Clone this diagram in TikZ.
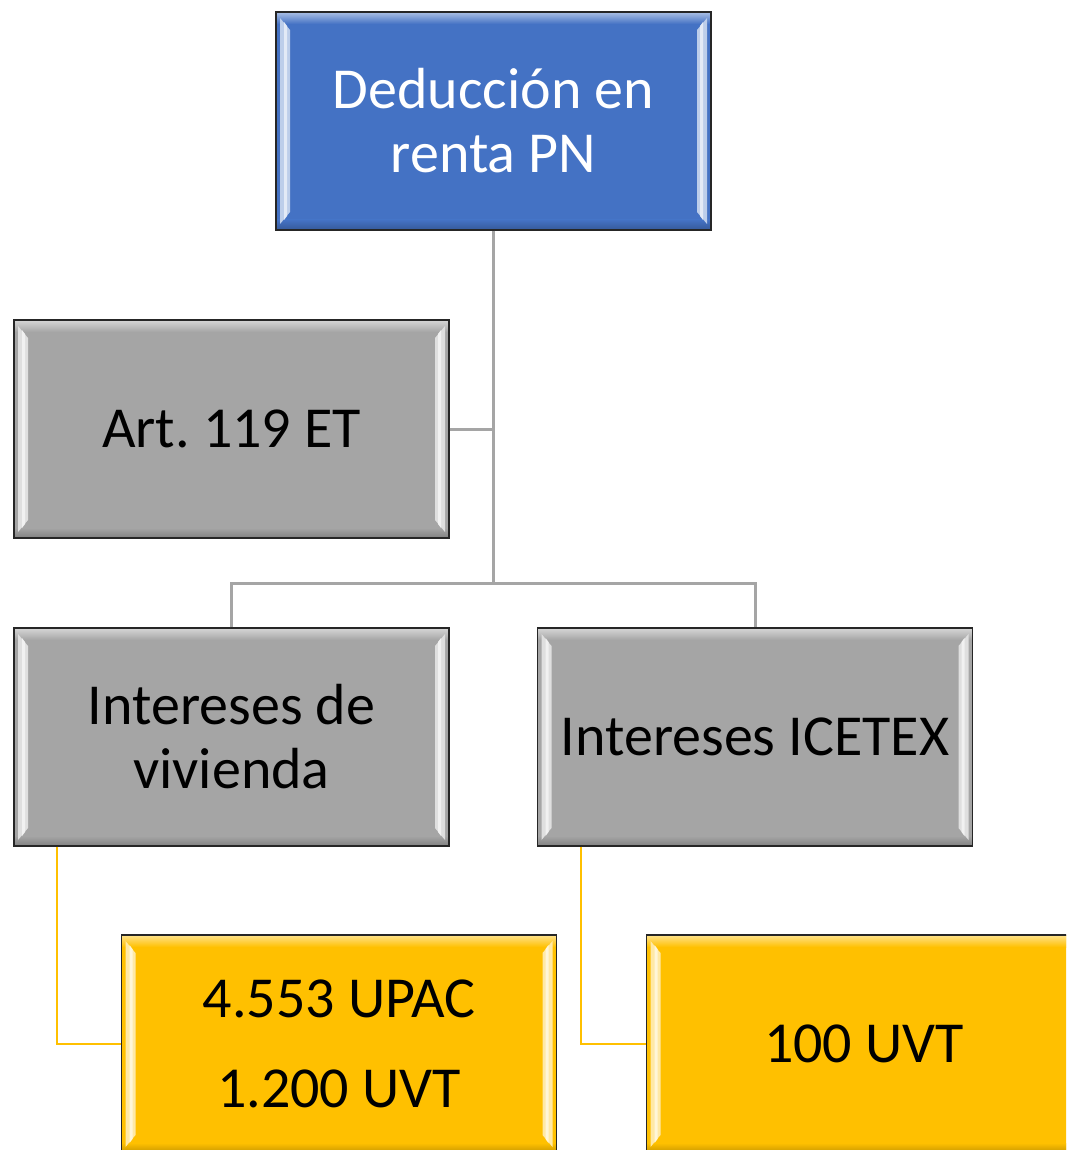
\documentclass[tikz,border=0pt]{standalone}
\usepackage{fontspec}
\setmainfont{Carlito}
\frenchspacing
\definecolor{cblue}{HTML}{4472C4}
\definecolor{cgray}{HTML}{A5A5A5}
\definecolor{cgold}{HTML}{FFC000}
\definecolor{cline}{HTML}{A5A5A5}
\tikzset{
  box/.style={rectangle, draw=black!85, line width=1.4pt, fill=#1,
    minimum width=435pt, minimum height=218pt, inner sep=0pt, align=center,
    font=\fontsize{58}{64}\selectfont,
    path picture={
      \coordinate (pNW) at (path picture bounding box.north west);
      \coordinate (pNE) at (path picture bounding box.north east);
      \coordinate (pSW) at (path picture bounding box.south west);
      \coordinate (pSE) at (path picture bounding box.south east);
      \shade[top color=#1!45!white, bottom color=#1] (pNW) rectangle ([yshift=-12pt]pNE);
      \shade[top color=#1, bottom color=#1!78!black] ([yshift=10pt]pSW) rectangle (pSE);
      \fill[#1!35!white] ([shift={(4pt,-6pt)}]pNW) -- ([shift={(14pt,-18pt)}]pNW)
         -- ([shift={(14pt,18pt)}]pSW) -- ([shift={(4pt,6pt)}]pSW) -- cycle;
      \fill[white!85!#1] ([shift={(8pt,-10pt)}]pNW) -- ([shift={(11pt,-14pt)}]pNW)
         -- ([shift={(11pt,14pt)}]pSW) -- ([shift={(8pt,10pt)}]pSW) -- cycle;
      \fill[#1!35!white] ([shift={(-4pt,-6pt)}]pNE) -- ([shift={(-14pt,-18pt)}]pNE)
         -- ([shift={(-14pt,18pt)}]pSE) -- ([shift={(-4pt,6pt)}]pSE) -- cycle;
      \fill[white!85!#1] ([shift={(-8pt,-10pt)}]pNE) -- ([shift={(-11pt,-14pt)}]pNE)
         -- ([shift={(-11pt,14pt)}]pSE) -- ([shift={(-8pt,10pt)}]pSE) -- cycle;
    }},
  gline/.style={draw=cline, line width=3pt},
  yline/.style={draw=cgold, line width=2.6pt}
}
\begin{document}
\begin{tikzpicture}[x=1pt,y=1pt]
\useasboundingbox (0,0) rectangle (1066,-1150);
\clip (0,0) rectangle (1066,-1150);
\coordinate (j) at (493.5,-583);
\node[box=cblue, text=white] (top) at (493.5,-121) {Deducción en\\renta PN};
\node[box=cgray] (art) at (231.5,-429) {Art. 119 ET};
\node[box=cgray] (viv) at (231.5,-737) {Intereses de\\vivienda};
\node[box=cgray] (ice) at (755,-737) {Intereses ICETEX};
\node[box=cgold, font=\fontsize{58}{90}\selectfont] (upac) at (339,-1044) {4.553 UPAC\\1.200 UVT};
\node[box=cgold] (uvt) at (864,-1044) {100 UVT};
\draw[gline] (top.south) -- (j);
\draw[gline] (art.east) -- (art.east -| j);
\draw[gline] (viv.north) |- (j) -| (ice.north);
\draw[yline] ([xshift=-174.5pt]viv.south) |- (upac.west);
\draw[yline] ([xshift=-174pt]ice.south) |- (uvt.west);
\end{tikzpicture}
\end{document}
